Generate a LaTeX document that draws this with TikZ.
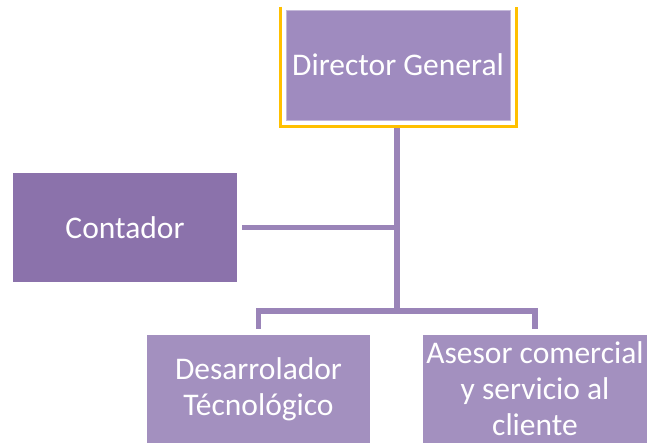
\documentclass[tikz,border=0pt]{standalone}
\usepackage{fontspec}
\setmainfont{Carlito}
\definecolor{dirc}{HTML}{9F8BBF}
\definecolor{contc}{HTML}{8B72AB}
\definecolor{botc}{HTML}{A390BF}
\definecolor{linec}{HTML}{9A84B8}
\definecolor{selc}{HTML}{FFC000}
\tikzset{
  box/.style={rectangle, inner sep=0pt, text=white, align=center, font=\fontsize{31.5}{36}\selectfont},
  conn/.style={draw=linec, line width=5.5pt, line cap=butt}
}
\begin{document}
\begin{tikzpicture}[x=1pt,y=-1pt]
\useasboundingbox (0,0) rectangle (648,443);
\node[box, fill=dirc, draw=dirc!60!white, line width=0.8pt, minimum width=224pt, minimum height=110pt] (dir) at (398,65) {Director General};
\node[box, fill=contc, minimum width=224pt, minimum height=109pt] (cont) at (125,227.5) {Contador};
\node[box, fill=botc, minimum width=223pt, minimum height=108pt] (dev) at (258.5,389) {Desarrolador\\Técnológico};
\node[box, fill=botc, minimum width=224pt, minimum height=108pt] (ase) at (535,389) {Asesor comercial\\y servicio al\\cliente};
\coordinate (bus) at (397,311);
\draw[selc, line width=2.5pt] ([shift={(-5pt,3pt)}]dir.north west) -- ([shift={(-5pt,-6pt)}]dir.south west) -- ([shift={(6pt,-6pt)}]dir.south east) -- ([shift={(6pt,3pt)}]dir.north east);
\draw[conn] ([yshift=-8pt]dir.south -| bus) -- (bus);
\draw[conn] ([xshift=5pt]cont.east) -- (cont.east -| bus);
\draw[conn] ([yshift=6pt]dev.north) |- (bus) -| ([yshift=6pt]ase.north);
\end{tikzpicture}
\end{document}
